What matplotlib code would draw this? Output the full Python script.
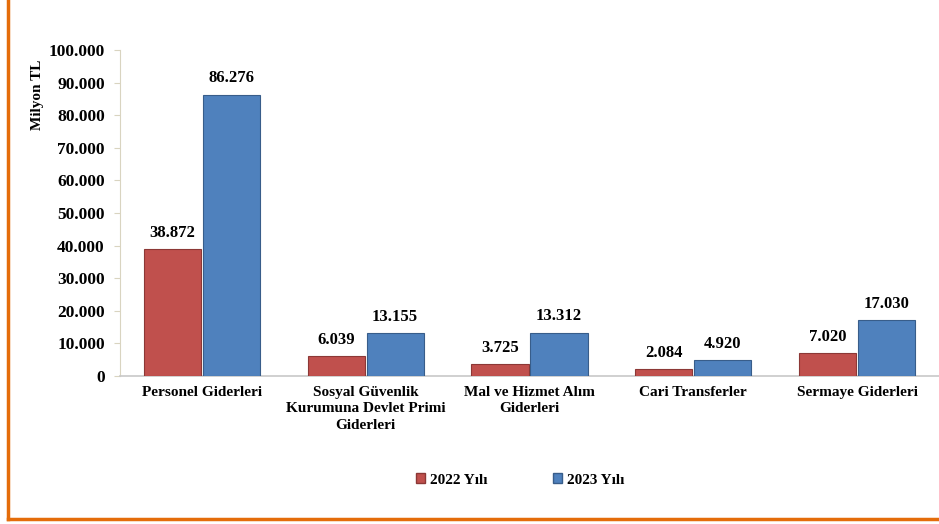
import matplotlib
matplotlib.use("Agg")
import matplotlib.pyplot as plt
from matplotlib.lines import Line2D
from matplotlib.patches import Patch
import numpy as np

categories = ["Personel Giderleri",
              "Sosyal Güvenlik\nKurumuna Devlet Primi\nGiderleri",
              "Mal ve Hizmet Alım\nGiderleri",
              "Cari Transferler",
              "Sermaye Giderleri"]
series_names = ["2022 Yılı", "2023 Yılı"]
values_2022 = [38872, 6039, 3725, 2084, 7020]
values_2023 = [86276, 13155, 13312, 4920, 17030]
yticks = [0, 10000, 20000, 30000, 40000, 50000, 60000, 70000, 80000, 90000, 100000]

def fmt(v):
    return f"{v:,}".replace(",", ".")

plt.rcParams['font.family'] = ['Liberation Serif', 'DejaVu Serif']
plt.rcParams['font.weight'] = 'bold'

W, H = 939, 524
fig = plt.figure(figsize=(W/100, H/100), dpi=100)
ax = fig.add_axes([120/W, (H-376)/H, (W-120)/W, (376-50)/H])

x = np.arange(len(categories))
bw = 0.35
off = 0.18
red = "#C0504D"
blue = "#4F81BD"
b1 = ax.bar(x - off, values_2022, bw, color=red, edgecolor="#8C3836", linewidth=0.8, label=series_names[0], zorder=3)
b2 = ax.bar(x + off, values_2023, bw, color=blue, edgecolor="#385D8A", linewidth=0.8, label=series_names[1], zorder=3)

for bars, vals in ((b1, values_2022), (b2, values_2023)):
    for r, v in zip(bars, vals):
        ax.annotate(fmt(v), (r.get_x() + r.get_width()/2, v), xytext=(0, 6),
                    textcoords="offset points", ha="center", va="bottom",
                    fontsize=12, fontweight="bold")

ax.set_xlim(-0.5, len(categories) - 0.5)
ax.set_ylim(0, 100000)
ax.set_yticks(yticks)
ax.set_yticklabels([fmt(t) for t in yticks], fontsize=12.5, fontweight="bold")
ax.set_xticks(x)
ax.set_xticklabels(categories, fontsize=11, fontweight="bold", linespacing=1.35)
ax.tick_params(axis="x", length=0, pad=7)
ax.tick_params(axis="y", length=4, color="#D9D4C0", pad=7)
for s in ("top", "right"):
    ax.spines[s].set_visible(False)
ax.spines["left"].set_color("#D9D4C0")
ax.spines["bottom"].set_color("#C8C8C8")
ax.spines["bottom"].set_linewidth(1.2)

fig.text(38/W, 1 - 95/H, "Milyon TL", rotation=90, ha="center", va="center",
         fontsize=11, fontweight="bold")

handles = [Patch(facecolor=red, edgecolor="#8C3836"), Patch(facecolor=blue, edgecolor="#385D8A")]
fig.legend(handles, series_names, loc="center", bbox_to_anchor=(520/W, 1 - 480/H),
           ncol=2, frameon=False, handlelength=0.6, handleheight=0.6,
           handletextpad=0.3, columnspacing=4.3, prop={'weight': 'bold', 'size': 11})

orange = "#E46C0A"
fig.add_artist(Line2D([8/W, 8/W], [1, (H-519)/H], color=orange, linewidth=2.5, transform=fig.transFigure))
fig.add_artist(Line2D([8/W, 1], [(H-519)/H, (H-519)/H], color=orange, linewidth=2.5, transform=fig.transFigure))

fig.savefig("out.png", dpi=100)
